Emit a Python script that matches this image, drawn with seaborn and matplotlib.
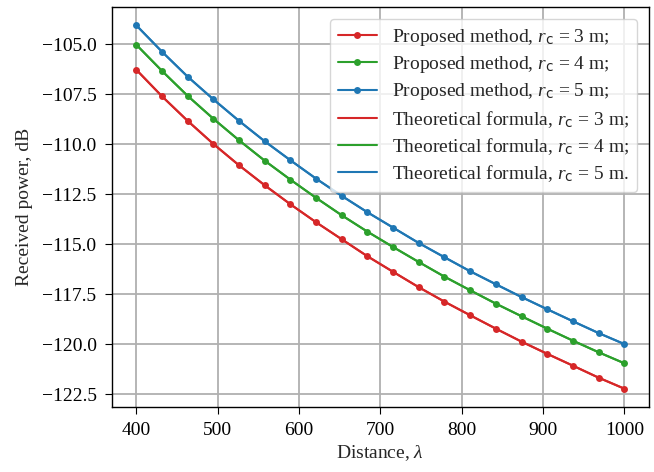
import matplotlib
matplotlib.use("Agg")
import matplotlib.pyplot as plt
import seaborn as sns

distance = [400, 431.6, 463.2, 494.7, 526.3, 557.9, 589.5, 621.1, 652.6, 684.2,
            715.8, 747.4, 778.9, 810.5, 842.1, 873.7, 905.3, 936.8, 968.4, 1000]

proposed_3 = [-106.27, -107.60, -108.83, -109.98, -111.05, -112.05, -113.00, -113.90, -114.75, -115.60,
              -116.38, -117.15, -117.87, -118.55, -119.22, -119.87, -120.48, -121.07, -121.67, -122.22]
proposed_4 = [-105.02, -106.33, -107.58, -108.72, -109.80, -110.82, -111.77, -112.68, -113.55, -114.37,
              -115.14, -115.89, -116.62, -117.30, -117.97, -118.60, -119.22, -119.82, -120.40, -120.95]
proposed_5 = [-104.05, -105.37, -106.62, -107.75, -108.83, -109.85, -110.80, -111.72, -112.58, -113.40,
              -114.17, -114.94, -115.65, -116.35, -117.00, -117.64, -118.25, -118.85, -119.44, -119.99]

theory_3 = list(proposed_3)
theory_4 = list(proposed_4)
theory_5 = list(proposed_5)

colors = ["#d62728", "#2ca02c", "#1f77b4"]
radii = [3, 4, 5]

sns.set_style("ticks")
plt.rcParams["font.family"] = ["Liberation Serif", "DejaVu Serif"]
plt.rcParams["font.size"] = 14
plt.rcParams["mathtext.fontset"] = "custom"
plt.rcParams["mathtext.rm"] = "Liberation Serif"
plt.rcParams["mathtext.it"] = "Liberation Serif:italic"
plt.rcParams["mathtext.sf"] = "DejaVu Sans"

fig = plt.figure(figsize=(6.54, 4.72), dpi=100)
ax = fig.add_axes([0.171, 0.138, 0.821, 0.847])

for vals, c, r in zip([proposed_3, proposed_4, proposed_5], colors, radii):
    sns.lineplot(x=distance, y=vals, ax=ax, color=c, marker="o", markersize=5,
                 markeredgewidth=0, linewidth=1.5,
                 label=f"Proposed method, $r_\\mathsf{{c}}$ = {r} m;")

ends = [";", ";", "."]
for vals, c, r, e in zip([theory_3, theory_4, theory_5], colors, radii, ends):
    sns.lineplot(x=distance, y=vals, ax=ax, color=c, linewidth=1.5,
                 label=f"Theoretical formula, $r_\\mathsf{{c}}$ = {r} m{e}")

ax.grid(True, color="#b0b0b0", linewidth=1.3)
for s in ax.spines.values():
    s.set_color("black")
    s.set_linewidth(1.0)
ax.tick_params(colors="black", labelsize=14, length=5, pad=6)
ax.set_xlabel("Distance, $\\lambda$", labelpad=3)
ax.set_ylabel("Received power, dB", labelpad=6)
ax.legend(loc="upper right", fontsize=14, framealpha=0.8, labelspacing=0.33,
          borderaxespad=0.6)

fig.savefig("out.png", dpi=100)
